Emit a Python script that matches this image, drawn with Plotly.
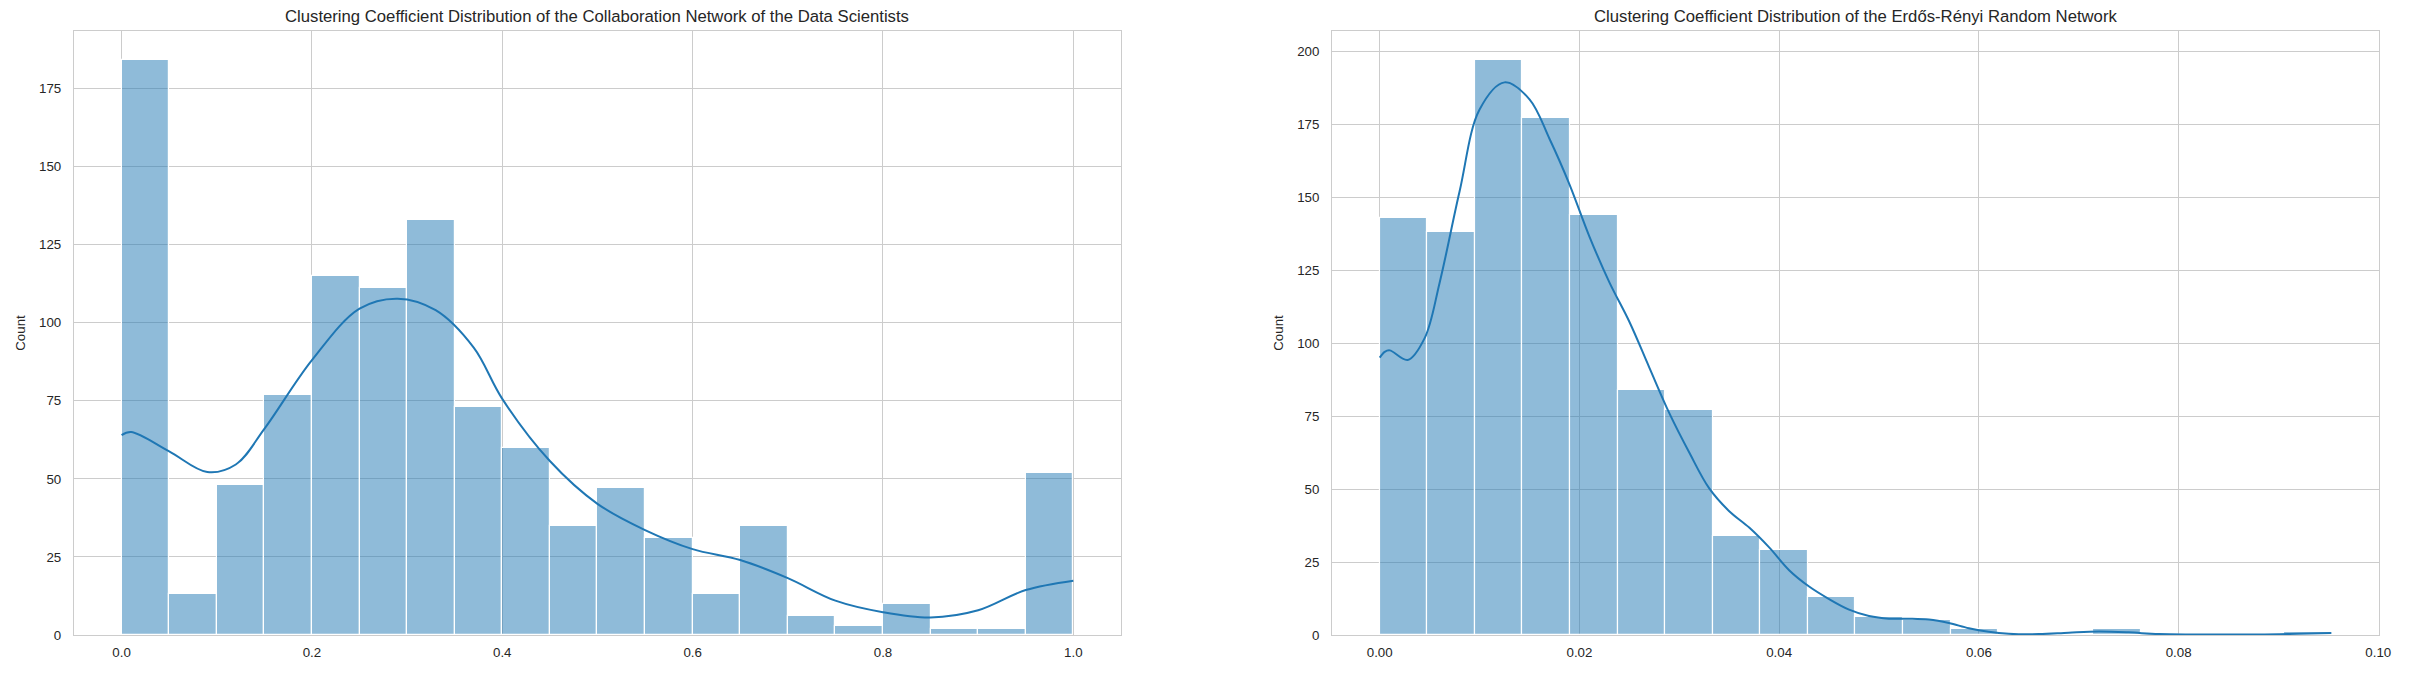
import numpy as np
import plotly.graph_objects as go

# Collaboration network: 20 bins over [0, 1]
collab_range = [0.0, 1.0]
collab_counts = [184, 13, 48, 77, 115, 111, 133, 73, 60, 35,
                 47, 31, 13, 35, 6, 3, 10, 2, 2, 52]
collab_kde_x = [0.0, 0.01, 0.05, 0.09, 0.12, 0.15, 0.2, 0.25, 0.29, 0.33,
                0.37, 0.4, 0.45, 0.5, 0.55, 0.6, 0.65, 0.7, 0.75, 0.8,
                0.85, 0.9, 0.95, 1.0]
collab_kde_y = [64, 65, 58.8, 52.2, 54.6, 66, 88, 104.5, 107.7, 104,
                92, 75.6, 55.7, 42, 33.6, 27.5, 24, 18.2, 11, 7.3,
                5.6, 7.9, 14.4, 17.4]

# Erdős-Rényi network: 20 bins over [0, max]
er_range = [0.0, 0.0953]
er_counts = [143, 138, 197, 177, 144, 84, 77, 34, 29, 13,
             6, 5, 2, 0, 0, 2, 0, 0, 0, 1]
er_kde_x = [0.0, 0.0005, 0.001, 0.0028, 0.0045, 0.006, 0.008, 0.010, 0.0125, 0.015,
            0.017, 0.019, 0.021, 0.023, 0.025, 0.027, 0.029, 0.031, 0.033, 0.035,
            0.037, 0.039, 0.041, 0.043, 0.045, 0.047, 0.049, 0.051, 0.053, 0.055,
            0.057, 0.059, 0.061, 0.063, 0.066, 0.069, 0.072, 0.075, 0.078, 0.082,
            0.088, 0.092, 0.0953]
er_kde_y = [95, 97, 97.5, 94.2, 101.7, 120.7, 152, 180, 189.3, 183.5,
            170, 154.4, 136.5, 120.8, 107.3, 91.6, 76, 62.5, 50.2, 42.4,
            36.8, 30, 22.2, 16.6, 12.3, 8.7, 6.5, 5.6, 5.6, 5.3,
            4.1, 2.3, 1.1, 0.45, 0.3, 0.8, 1.2, 0.9, 0.3, 0.2,
            0.2, 0.45, 0.7]

titles = [
    "Clustering Coefficient Distribution of the Collaboration Network of the Data Scientists",
    "Clustering Coefficient Distribution of the Erdős-Rényi Random Network",
]

BAR_COLOR = "rgba(31,119,180,0.5)"
LINE_COLOR = "#1f77b4"
GRID = "#cccccc"
TEXT = "#262626"
FONT = "Liberation Sans, Arial, sans-serif"

# page body has an 8px margin, so the figure is a bit smaller than the window
PAGE = 8
W, H = 2411 - 2 * PAGE, 680 - 2 * PAGE
ML, MT = 63 - PAGE, 31 - PAGE
MR = (2411 - PAGE) - 2388
MB = (680 - PAGE) - 646
plot_w = W - ML - MR


def dom(x0, x1):
    # pixel positions on the window -> paper fraction
    return [(x0 - PAGE - ML) / plot_w, (x1 - PAGE - ML) / plot_w]


fig = go.Figure()

panels = [
    (collab_range, collab_counts, collab_kde_x, collab_kde_y, "x", "y"),
    (er_range, er_counts, er_kde_x, er_kde_y, "x2", "y2"),
]
for rng, counts, kx, ky, xa, ya in panels:
    edges = np.linspace(rng[0], rng[1], len(counts) + 1)
    centers = (edges[:-1] + edges[1:]) / 2
    width = edges[1] - edges[0]
    fig.add_trace(go.Bar(
        x=centers, y=counts, width=width,
        marker=dict(color=BAR_COLOR, line=dict(color="white", width=1.2)),
        xaxis=xa, yaxis=ya, showlegend=False,
    ))
    fig.add_trace(go.Scatter(
        x=kx, y=ky, mode="lines",
        line=dict(color=LINE_COLOR, width=2, shape="spline", smoothing=1.0),
        xaxis=xa, yaxis=ya, showlegend=False,
    ))

axis_common = dict(
    showgrid=True, gridcolor=GRID, gridwidth=1,
    showline=True, linecolor=GRID, linewidth=1.2, mirror=True,
    zeroline=False, ticks="outside", tickcolor="rgba(0,0,0,0)",
    ticklabeloverflow="allow",
    tickfont=dict(size=13.3, color=TEXT, family=FONT),
)
ytitle = dict(text="Count", font=dict(size=13.3, color=TEXT, family=FONT), standoff=10)

fig.update_layout(
    width=W, height=H,
    margin=dict(l=ML, r=MR, t=MT, b=MB),
    paper_bgcolor="white", plot_bgcolor="white",
    bargap=0, barmode="overlay",
    font=dict(family=FONT, color=TEXT),
    xaxis=dict(domain=dom(63, 1119), range=[-0.05, 1.05], ticklen=5,
               tickvals=[0, 0.2, 0.4, 0.6, 0.8, 1.0],
               ticktext=["0.0", "0.2", "0.4", "0.6", "0.8", "1.0"], **axis_common),
    yaxis=dict(range=[0, 193.4], ticklen=9,
               tickvals=[0, 25, 50, 75, 100, 125, 150, 175],
               title=ytitle, **axis_common),
    xaxis2=dict(domain=dom(1332, 2388), range=[-0.00477, 0.10007], ticklen=5,
                tickvals=[0, 0.02, 0.04, 0.06, 0.08, 0.10],
                ticktext=["0.00", "0.02", "0.04", "0.06", "0.08", "0.10"], **axis_common),
    yaxis2=dict(anchor="x2", range=[0, 206.9], ticklen=9,
                tickvals=[0, 25, 50, 75, 100, 125, 150, 175, 200],
                title=ytitle, **axis_common),
)

for i, t in enumerate(titles):
    d = fig.layout.xaxis.domain if i == 0 else fig.layout.xaxis2.domain
    fig.add_annotation(
        text=t, x=(d[0] + d[1]) / 2, y=1, xref="paper", yref="paper",
        xanchor="center", yanchor="bottom", yshift=3, showarrow=False,
        font=dict(size=16.7, color=TEXT, family=FONT),
    )

fig.write_html("out.html")
